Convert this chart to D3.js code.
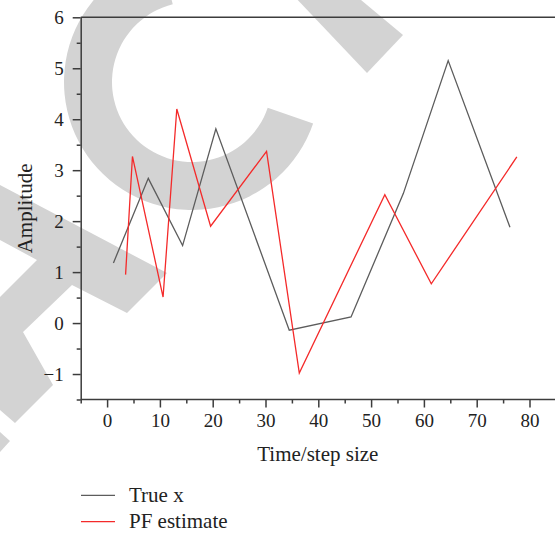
<!DOCTYPE html>
<html>
<head>
<meta charset="utf-8">
<script src="https://cdn.jsdelivr.net/npm/d3@7"></script>
<style>
  html, body { margin: 0; padding: 0; background: #fff; }
  svg { display: block; }
  text { font-family: "Liberation Serif", "Times New Roman", serif; fill: #222; }
</style>
</head>
<body>
<svg id="chart" width="555" height="533"></svg>
<script>
// ---- data ----
const trueTime = [1.2, 7.8, 14.3, 20.6, 34.5, 46.2, 56.1, 64.6, 76.3];
const trueX    = [1.18, 2.84, 1.52, 3.81, -0.14, 0.12, 2.54, 5.15, 1.88];
const pfTime   = [3.5, 4.8, 10.6, 13.2, 19.6, 30.2, 36.4, 52.6, 61.4, 77.6];
const pfX      = [0.95, 3.27, 0.51, 4.2, 1.9, 3.37, -0.98, 2.52, 0.77, 3.26];
const xTicks   = [0, 10, 20, 30, 40, 50, 60, 70, 80];
const yTicks   = [-1, 0, 1, 2, 3, 4, 5, 6];
const seriesNames = ["True x", "PF estimate"];
const seriesColors = ["#5c5c5c", "#f42a2a"];

const svg = d3.select("#chart");
const W = 555, H = 533;
svg.append("rect").attr("width", W).attr("height", H).attr("fill", "#fff");

// ---- background watermark (decoration) ----
const wm = svg.append("g").attr("fill", "#d3d3d3");
wm.append("path")
  .attr("transform", "translate(192,82)")
  .attr("d", d3.arc()({innerRadius: 80, outerRadius: 128, startAngle: 1.9, endAngle: 6.04}));
const wmPolys = [
  [[293,-5],[355,-5],[403,35],[367,73]],
  [[0,185],[167,273],[127,313],[72,285],[23,332],[53,385],[15,423],[0,410],[0,297],[37,260],[0,240]],
  [[0,432],[10,441],[0,452]]
];
wmPolys.forEach(p => wm.append("path").attr("d", d3.line()(p) + "Z"));

// ---- scales ----
const x = d3.scaleLinear().domain([-5, 85]).range([80.7, 555.9]);
const y = d3.scaleLinear().domain([-1.5, 6]).range([399.5, 17.3]);
const axisColor = "#3c3c3c";

// x axis
const xAxis = svg.append("g").attr("transform", `translate(0,${y(-1.5)})`)
  .call(d3.axisBottom(x).tickValues(xTicks).tickSize(8).tickPadding(6).tickSizeOuter(0).tickFormat(d3.format("d")));
const xMinor = svg.append("g").attr("transform", `translate(0,${y(-1.5)})`)
  .call(d3.axisBottom(x).tickValues(d3.range(-5, 86, 10)).tickSize(4).tickFormat(""));
xMinor.select(".domain").remove();

// y axis
const yAxis = svg.append("g").attr("transform", `translate(${x(-5)},0)`)
  .call(d3.axisLeft(y).tickValues(yTicks).tickSize(8).tickPadding(9).tickSizeOuter(0).tickFormat(d3.format("d")));
const yMinor = svg.append("g").attr("transform", `translate(${x(-5)},0)`)
  .call(d3.axisLeft(y).tickValues(d3.range(-1.5, 6, 1)).tickSize(4).tickFormat(""));
yMinor.select(".domain").remove();

[xAxis, xMinor, yAxis, yMinor].forEach(g => {
  g.selectAll("path, line").attr("stroke", axisColor).attr("stroke-width", 1.5);
  g.selectAll("text").attr("font-family", "Liberation Serif, serif").attr("font-size", 19).attr("fill", "#222");
});
xAxis.select(".domain").attr("d", `M${x(-5)},0H${W}`);

// top frame line
svg.append("line")
  .attr("x1", x(-5)).attr("x2", W)
  .attr("y1", y(6)).attr("y2", y(6))
  .attr("stroke", axisColor).attr("stroke-width", 1.5);

// axis titles
svg.append("text")
  .attr("x", (x(-5) + W) / 2).attr("y", 461)
  .attr("text-anchor", "middle").attr("font-size", 21)
  .text("Time/step size");
svg.append("text")
  .attr("transform", `translate(32,${(y(6) + y(-1.5)) / 2}) rotate(-90)`)
  .attr("text-anchor", "middle").attr("font-size", 21)
  .text("Amplitude");

// ---- series ----
const line = d3.line().x(d => x(d[0])).y(d => y(d[1]));
const series = [
  d3.zip(trueTime, trueX),
  d3.zip(pfTime, pfX)
];
series.forEach((s, i) => {
  svg.append("path").datum(s)
    .attr("d", line)
    .attr("fill", "none")
    .attr("stroke", seriesColors[i])
    .attr("stroke-width", 1.3)
    .attr("stroke-linejoin", "miter");
});

// ---- legend ----
const leg = svg.append("g");
seriesNames.forEach((name, i) => {
  const yy = 495.3 + i * 26.4;
  leg.append("line").attr("x1", 81).attr("x2", 115).attr("y1", yy).attr("y2", yy)
    .attr("stroke", seriesColors[i]).attr("stroke-width", 1.3);
  leg.append("text").attr("x", 129).attr("y", yy + 6.5).attr("font-size", 21).text(name);
});
</script>
</body>
</html>
